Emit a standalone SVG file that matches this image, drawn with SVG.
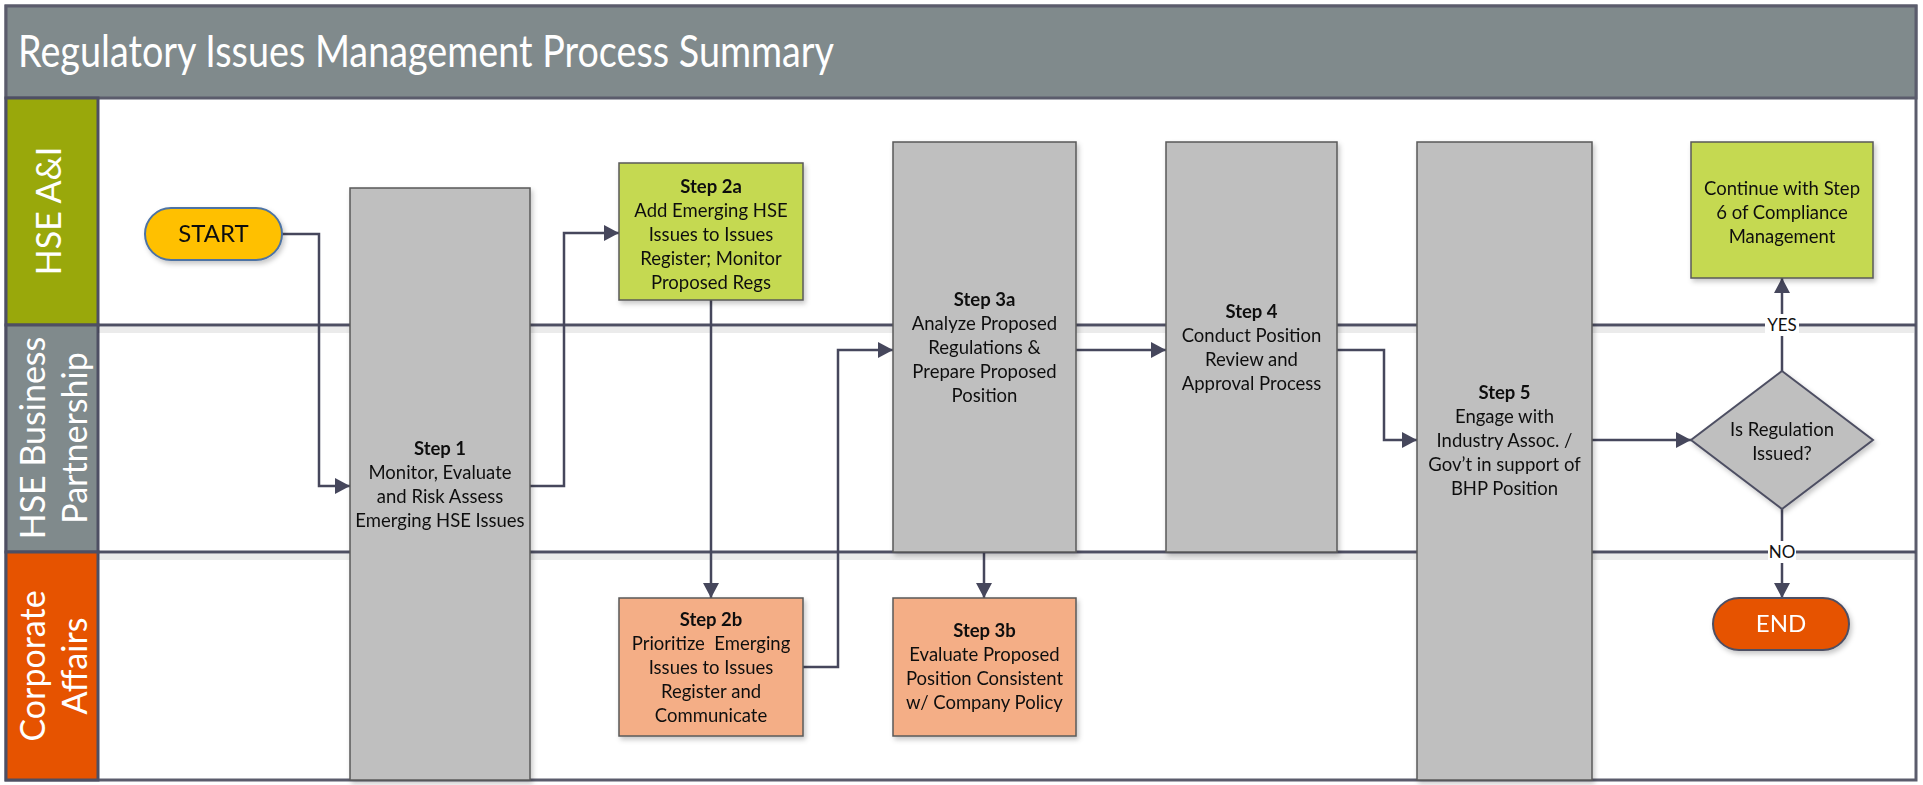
<svg xmlns="http://www.w3.org/2000/svg" width="1923" height="785" viewBox="0 0 1923 785">
<defs>
<style>
.t{font-family:Lato,"Liberation Sans",Arial,sans-serif;font-size:18.5px;fill:#111;text-anchor:middle}
.b{font-weight:bold}
.lane{font-family:Lato,"Liberation Sans",Arial,sans-serif;font-size:34px;fill:#fff;text-anchor:middle}
.gray{fill:#bfbfbf;stroke:#5a5a5a;stroke-width:1.5}
.lg{fill:#c5d951;stroke:#5a5a5a;stroke-width:1.5}
.sal{fill:#f4ae86;stroke:#5a5a5a;stroke-width:1.5}
.con{fill:none;stroke:#46475c;stroke-width:2.5}
.ln{stroke:#4e4f63;stroke-width:3}
.lns{stroke:#000;stroke-opacity:0.08;stroke-width:6}
.lbl{font-family:Lato,"Liberation Sans",Arial,sans-serif;font-size:17px;fill:#111;text-anchor:middle}
</style>
<marker id="arr" markerUnits="userSpaceOnUse" markerWidth="16" markerHeight="16" refX="15" refY="8" orient="auto">
<path d="M0,0 L15,8 L0,16 z" fill="#46475c"/>
</marker>
<filter id="sh" x="-10%" y="-10%" width="130%" height="130%">
<feDropShadow dx="2" dy="3" stdDeviation="2.5" flood-color="#000" flood-opacity="0.22"/>
</filter>
</defs>
<g id="background">
<rect x="6" y="6" width="1910" height="774" fill="#fff" stroke="#5b5c6c" stroke-width="3"/>
<rect x="6" y="6" width="1910" height="92" fill="#808a8c" stroke="#5b5c6c" stroke-width="3"/>
<text x="18" y="67" font-family="Lato,'Liberation Sans',Arial,sans-serif" font-size="44" fill="#fff" textLength="816" lengthAdjust="spacingAndGlyphs">Regulatory Issues Management Process Summary</text>
<rect x="6" y="98" width="92" height="227" fill="#99a80b" stroke="#4e4f63" stroke-width="3"/>
<rect x="6" y="325" width="92" height="227" fill="#808a8c" stroke="#4e4f63" stroke-width="3"/>
<rect x="6" y="552" width="92" height="228" fill="#e65300" stroke="#4e4f63" stroke-width="3"/>
<text class="lane" transform="translate(61,211) rotate(-90)">HSE A&amp;I</text>
<text class="lane" transform="translate(45,438) rotate(-90)">HSE Business</text>
<text class="lane" transform="translate(87,438) rotate(-90)">Partnership</text>
<text class="lane" transform="translate(45,666) rotate(-90)">Corporate</text>
<text class="lane" transform="translate(87,666) rotate(-90)">Affairs</text>
<line class="lns" x1="98" y1="330" x2="1914" y2="330"/>
<line class="lns" x1="98" y1="557" x2="1914" y2="557"/>
<line class="ln" x1="98" y1="325" x2="1916" y2="325"/>
<line class="ln" x1="98" y1="552" x2="1916" y2="552"/>
</g>
<g id="connectors">
<path class="con" d="M282,234 H319 V486 H350" marker-end="url(#arr)"/>
<path class="con" d="M530,486 H564 V233 H619" marker-end="url(#arr)"/>
<path class="con" d="M711,300 V598" marker-end="url(#arr)"/>
<path class="con" d="M803,667 H838 V350 H893" marker-end="url(#arr)"/>
<path class="con" d="M984,552 V598" marker-end="url(#arr)"/>
<path class="con" d="M1076,350 H1166" marker-end="url(#arr)"/>
<path class="con" d="M1337,350 H1384 V440 H1417" marker-end="url(#arr)"/>
<path class="con" d="M1592,440 H1691" marker-end="url(#arr)"/>
<path class="con" d="M1782,371 V278" marker-end="url(#arr)"/>
<path class="con" d="M1782,509 V598" marker-end="url(#arr)"/>
<rect x="1765" y="314" width="34" height="22" fill="#fff"/>
<text class="lbl" x="1782" y="331">YES</text>
<rect x="1768" y="541" width="28" height="22" fill="#fff"/>
<text class="lbl" x="1782" y="558">NO</text>
</g>
<g id="start" filter="url(#sh)">
<rect x="145" y="208" width="137" height="52" rx="26" fill="#ffc000" stroke="#4d73a4" stroke-width="2"/>
<text class="t" x="213.5" y="242" style="font-size:24px">START</text>
</g>
<g id="step1" filter="url(#sh)">
<rect class="gray" x="350" y="188" width="180" height="592"/>
<text class="t b" x="440" y="455">Step 1</text>
<text class="t" x="440" y="479">Monitor, Evaluate</text>
<text class="t" x="440" y="503">and Risk Assess</text>
<text class="t" x="440" y="527">Emerging HSE Issues</text>
</g>
<g id="step2a" filter="url(#sh)">
<rect class="lg" x="619" y="163" width="184" height="137"/>
<text class="t b" x="711" y="193">Step 2a</text>
<text class="t" x="711" y="217">Add Emerging HSE</text>
<text class="t" x="711" y="241">Issues to Issues</text>
<text class="t" x="711" y="265">Register; Monitor</text>
<text class="t" x="711" y="289">Proposed Regs</text>
</g>
<g id="step2b" filter="url(#sh)">
<rect class="sal" x="619" y="598" width="184" height="138"/>
<text class="t b" x="711" y="626">Step 2b</text>
<text class="t" x="711" y="650" xml:space="preserve">Prioritize  Emerging</text>
<text class="t" x="711" y="674">Issues to Issues</text>
<text class="t" x="711" y="698">Register and</text>
<text class="t" x="711" y="722">Communicate</text>
</g>
<g id="step3a" filter="url(#sh)">
<rect class="gray" x="893" y="142" width="183" height="410"/>
<text class="t b" x="984.5" y="306">Step 3a</text>
<text class="t" x="984.5" y="330">Analyze Proposed</text>
<text class="t" x="984.5" y="354">Regulations &amp;</text>
<text class="t" x="984.5" y="378">Prepare Proposed</text>
<text class="t" x="984.5" y="402">Position</text>
</g>
<g id="step3b" filter="url(#sh)">
<rect class="sal" x="893" y="598" width="183" height="138"/>
<text class="t b" x="984.5" y="637">Step 3b</text>
<text class="t" x="984.5" y="661">Evaluate Proposed</text>
<text class="t" x="984.5" y="685">Position Consistent</text>
<text class="t" x="984.5" y="709">w/ Company Policy</text>
</g>
<g id="step4" filter="url(#sh)">
<rect class="gray" x="1166" y="142" width="171" height="410"/>
<text class="t b" x="1251.5" y="318">Step 4</text>
<text class="t" x="1251.5" y="342">Conduct Position</text>
<text class="t" x="1251.5" y="366">Review and</text>
<text class="t" x="1251.5" y="390">Approval Process</text>
</g>
<g id="step5" filter="url(#sh)">
<rect class="gray" x="1417" y="142" width="175" height="638"/>
<text class="t b" x="1504.5" y="399">Step 5</text>
<text class="t" x="1504.5" y="423">Engage with</text>
<text class="t" x="1504.5" y="447">Industry Assoc. /</text>
<text class="t" x="1504.5" y="471">Gov’t in support of</text>
<text class="t" x="1504.5" y="495">BHP Position</text>
</g>
<g id="continue" filter="url(#sh)">
<rect class="lg" x="1691" y="142" width="182" height="136"/>
<text class="t" x="1782" y="195">Continue with Step</text>
<text class="t" x="1782" y="219">6 of Compliance</text>
<text class="t" x="1782" y="243">Management</text>
</g>
<g id="decision" filter="url(#sh)">
<polygon points="1782,371 1873,440 1782,509 1691,440" fill="#bfbfbf" stroke="#4e4f63" stroke-width="2"/>
<text class="t" x="1782" y="436">Is Regulation</text>
<text class="t" x="1782" y="460">Issued?</text>
</g>
<g id="end" filter="url(#sh)">
<rect x="1713" y="598" width="136" height="52" rx="26" fill="#e65300" stroke="#4e4f63" stroke-width="2"/>
<text class="t" x="1781" y="632" style="font-size:24px;fill:#fff">END</text>
</g>
</svg>
